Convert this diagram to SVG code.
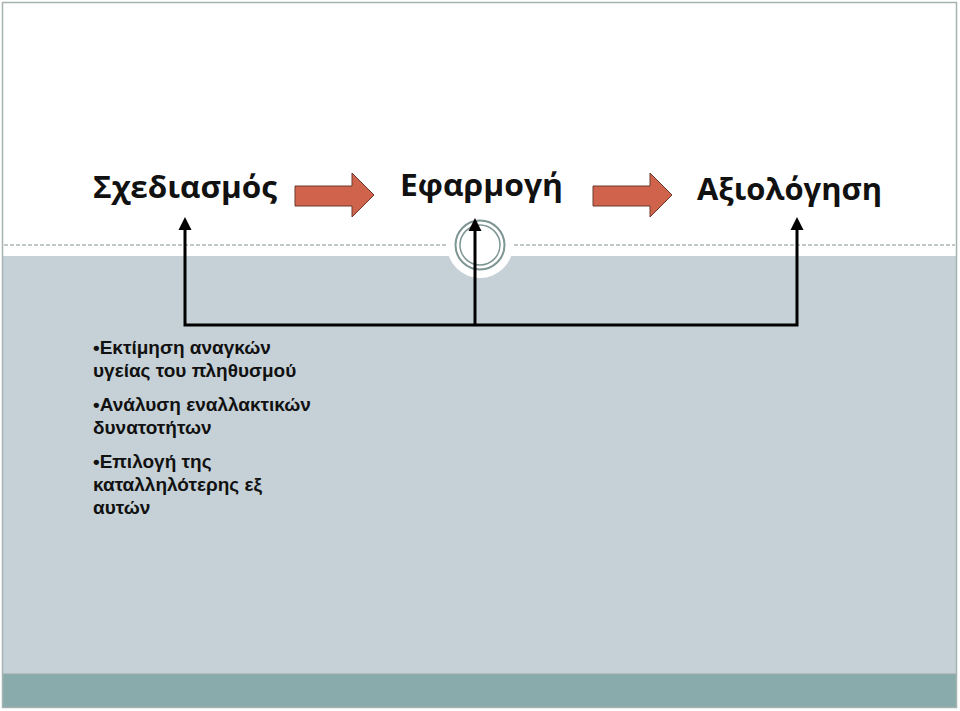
<svg xmlns="http://www.w3.org/2000/svg" width="960" height="711" viewBox="0 0 960 711">
<defs>
<style>
.title{font-family:"Open Sans","Noto Sans","Liberation Sans",sans-serif;font-weight:bold;font-size:31px;fill:#111}
.body{font-family:"Liberation Sans",Arial,sans-serif;font-weight:bold;font-size:19px;fill:#111}
.conn{fill:none;stroke:#000;stroke-width:3}
.red{fill:#d0634b;stroke:#6b3a2e;stroke-width:1}
</style>
</defs>
<rect x="0" y="0" width="960" height="711" fill="#ffffff"/>
<g id="background">
<rect x="3" y="256" width="953" height="418" fill="#c6d1d7"/>
<rect x="3" y="674" width="953" height="33" fill="#8aabab"/>
<line x1="3" y1="674" x2="956" y2="674" stroke="#9aa9aa" stroke-width="1"/>
<rect x="2.5" y="2.5" width="954" height="705" fill="none" stroke="#a4b2b0" stroke-width="1.5"/>
<line x1="4" y1="245" x2="955" y2="245" stroke="#7f9593" stroke-width="1" stroke-dasharray="4,2"/>
<circle cx="480" cy="245" r="33" fill="#ffffff"/>
<circle cx="480" cy="245" r="24.5" fill="none" stroke="#7d9593" stroke-width="2"/>
<circle cx="480" cy="245" r="20" fill="none" stroke="#7d9593" stroke-width="1.5"/>
</g>
<g id="node-sxediasmos">
<text class="title" x="93" y="198" textLength="184" lengthAdjust="spacingAndGlyphs">Σχεδιασμός</text>
</g>
<g id="node-efarmogi">
<text class="title" x="400" y="196" textLength="163" lengthAdjust="spacingAndGlyphs">Εφαρμογή</text>
</g>
<g id="node-aksiologisi">
<text class="title" x="697" y="200" textLength="185" lengthAdjust="spacingAndGlyphs">Αξιολόγηση</text>
</g>
<g id="arrow-1">
<path class="red" d="M295,186 L352,186 L352,173 L374,195 L352,217 L352,206 L295,206 Z"/>
</g>
<g id="arrow-2">
<path class="red" d="M593,186 L650,186 L650,173 L672,195 L650,217 L650,206 L593,206 Z"/>
</g>
<g id="connectors">
<polyline class="conn" points="185,222 185,325 797,325 797,222"/>
<line class="conn" x1="475" y1="325" x2="475" y2="222"/>
<path d="M178.5,230 L185,217 L191.5,230 Z" fill="#000"/>
<path d="M468.5,231 L475,218 L481.5,231 Z" fill="#000"/>
<path d="M790.5,230 L797,217 L803.5,230 Z" fill="#000"/>
</g>
<g id="node-list">
<text class="body" x="93" y="354">•Εκτίμηση αναγκών</text>
<text class="body" x="93" y="377">υγείας του πληθυσμού</text>
<text class="body" x="93" y="411">•Ανάλυση εναλλακτικών</text>
<text class="body" x="93" y="434">δυνατοτήτων</text>
<text class="body" x="93" y="468">•Επιλογή της</text>
<text class="body" x="93" y="491">καταλληλότερης εξ</text>
<text class="body" x="93" y="514">αυτών</text>
</g>
</svg>
